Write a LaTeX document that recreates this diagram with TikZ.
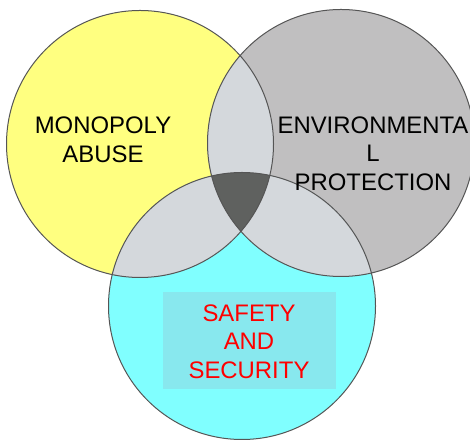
\documentclass[tikz,border=0pt]{standalone}
\usepackage{fontspec}
\setmainfont{Liberation Sans}
\definecolor{cyel}{HTML}{FFFF80}
\definecolor{cgry}{HTML}{C0BFC0}
\definecolor{ccyn}{HTML}{80FFFF}
\definecolor{cpair}{HTML}{D4D8DC}
\definecolor{ctrip}{HTML}{5F615F}
\definecolor{cbox}{HTML}{88E8EE}
\definecolor{cline}{HTML}{555555}
\begin{document}
\begin{tikzpicture}[x=1bp,y=1bp,
  lab/.style={inner sep=0pt,align=center,font=\fontsize{24}{28.8}\selectfont},
  ring/.style={draw=cline,line width=1bp}]
\useasboundingbox (0,0) rectangle (470,441);
\coordinate (cy) at (140,297);
\coordinate (cg) at (341,298);
\coordinate (cc) at (242,135);
\def\rr{133.5}
% fills
\fill[cyel] (cy) circle (\rr);
\fill[cgry] (cg) circle (\rr);
\fill[ccyn] (cc) circle (\rr);
\begin{scope}
  \clip (cy) circle (\rr);
  \fill[cpair] (cg) circle (\rr);
  \fill[cpair] (cc) circle (\rr);
\end{scope}
\begin{scope}
  \clip (cg) circle (\rr);
  \fill[cpair] (cc) circle (\rr);
\end{scope}
\begin{scope}
  \clip (cy) circle (\rr);
  \clip (cg) circle (\rr);
  \fill[ctrip] (cc) circle (\rr);
\end{scope}
% outlines
\draw[ring] (cy) circle (\rr);
\draw[ring] (cg) circle (\rr);
\draw[ring] (cc) circle (\rr);
% box
\fill[cbox] (163,149) rectangle (336,52);
% labels
\node[lab] (mono) at (103,301.5) {MONOPOLY\\ABUSE};
\node[lab] (env) at (373,287.5) {ENVIRONMENTA\\L\\PROTECTION};
\node[lab,text=red] (safe) at (249,99.5) {SAFETY\\AND\\SECURITY};
\end{tikzpicture}
\end{document}
